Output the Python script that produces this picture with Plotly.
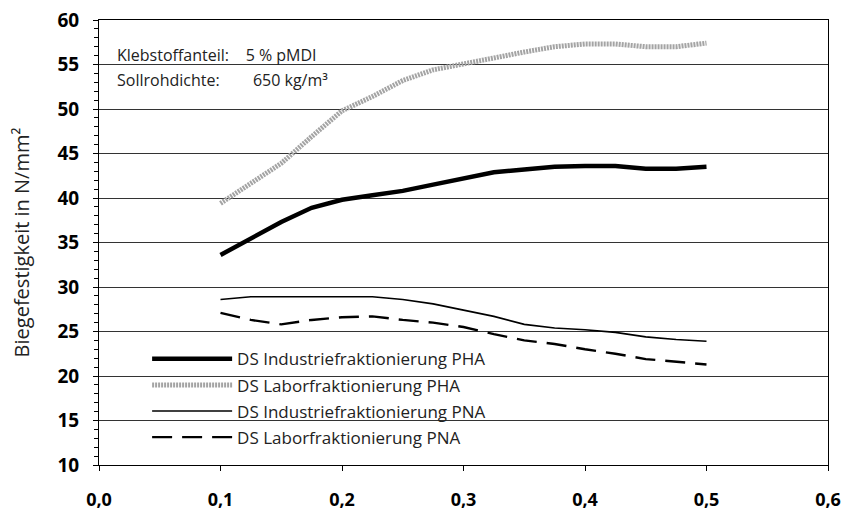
import plotly.graph_objects as go

x = [0.1, 0.125, 0.15, 0.175, 0.2, 0.225, 0.25, 0.275, 0.3, 0.325, 0.35, 0.375, 0.4, 0.425, 0.45, 0.475, 0.5]
pha_ind = [33.6, 35.5, 37.3, 38.9, 39.8, 40.3, 40.8, 41.5, 42.2, 42.9, 43.2, 43.5, 43.6, 43.6, 43.3, 43.3, 43.5]
pha_lab = [39.4, 41.6, 43.9, 46.9, 49.8, 51.4, 53.2, 54.4, 55.1, 55.8, 56.4, 57.0, 57.3, 57.3, 57.0, 57.0, 57.4]
pna_ind = [28.6, 28.9, 28.9, 28.9, 28.9, 28.9, 28.6, 28.1, 27.4, 26.7, 25.8, 25.4, 25.2, 24.9, 24.4, 24.1, 23.9]
pna_lab = [27.1, 26.3, 25.8, 26.3, 26.6, 26.7, 26.3, 26.0, 25.5, 24.7, 24.0, 23.6, 23.0, 22.5, 21.9, 21.6, 21.3]

names = ["DS Industriefraktionierung PHA", "DS Laborfraktionierung PHA",
         "DS Industriefraktionierung PNA", "DS Laborfraktionierung PNA"]
y_ticks = [10, 15, 20, 25, 30, 35, 40, 45, 50, 55, 60]
x_ticks = [0.0, 0.1, 0.2, 0.3, 0.4, 0.5, 0.6]
x_ticktext = ["0,0", "0,1", "0,2", "0,3", "0,4", "0,5", "0,6"]
box_lines = ["Klebstoffanteil:    5 % pMDI", "Sollrohdichte:        650 kg/m³"]

fig = go.Figure()
fig.add_trace(go.Scatter(x=x, y=pha_ind, mode="lines", name=names[0], legendgroup="a",
                         line=dict(color="black", width=4.5)))
fig.add_trace(go.Scatter(x=x, y=pha_lab, mode="lines", name=names[1], legendgroup="b",
                         line=dict(color="#a4a4a4", width=5, dash="2px,1px")))
fig.add_trace(go.Scatter(x=x, y=pna_ind, mode="lines", name=names[2], legendgroup="c",
                         line=dict(color="black", width=1.6)))
fig.add_trace(go.Scatter(x=x, y=pna_lab, mode="lines", name=names[3], legendgroup="d",
                         line=dict(color="black", width=2.4, dash="20px,10px")))

# white boxes behind legend and text block (covering gridlines)
fig.add_shape(type="rect", xref="paper", yref="paper", x0=0.0151, x1=0.605, y0=0.029, y1=0.281,
              fillcolor="white", line=dict(width=0), layer="between")
fig.add_shape(type="rect", xref="paper", yref="paper", x0=0.0151, x1=0.344, y0=0.838, y1=0.966,
              fillcolor="white", line=dict(width=0), layer="between")

fig.add_annotation(xref="paper", yref="paper", x=0.022, y=0.921, xanchor="left", yanchor="middle",
                   text=box_lines[0], showarrow=False,
                   font=dict(family="Open Sans", size=16, color="#222"))
fig.add_annotation(xref="paper", yref="paper", x=0.022, y=0.865, xanchor="left", yanchor="middle",
                   text=box_lines[1], showarrow=False,
                   font=dict(family="Open Sans", size=16, color="#222"))

fig.update_layout(
    width=847, height=510,
    margin=dict(l=99, r=19, t=20, b=45),
    plot_bgcolor="white", paper_bgcolor="white",
    separators=",.",
    showlegend=True,
    legend=dict(x=0.066, y=0.278, xanchor="left", yanchor="top", bgcolor="rgba(0,0,0,0)",
                font=dict(family="Open Sans", size=17, color="#222"),
                traceorder="grouped", tracegroupgap=1, itemwidth=80),
)
fig.update_xaxes(range=[0, 0.6], tickvals=x_ticks, ticktext=x_ticktext, automargin=False,
                 showgrid=False, showline=True, linecolor="black", linewidth=1, mirror=True,
                 ticks="outside", ticklen=5, tickcolor="black", ticklabelstandoff=13,
                 tickfont=dict(family="Open Sans", size=18, color="black", weight="bold"),
                 zeroline=False)
fig.update_yaxes(range=[10, 60], tickvals=y_ticks, automargin=False,
                 showgrid=True, gridcolor="#333", gridwidth=1,
                 showline=True, linecolor="black", linewidth=1, mirror=True,
                 ticks="outside", ticklen=5, tickcolor="black", ticklabelstandoff=10,
                 minor=dict(dtick=1, ticks="outside", ticklen=4, tickcolor="black", showgrid=False),
                 tickfont=dict(family="Open Sans", size=19, color="black", weight="bold"),
                 title=dict(text="Biegefestigkeit in N/mm²", standoff=22,
                            font=dict(family="Open Sans", size=20, color="#222")),
                 zeroline=False)

fig.write_html("out.html", config={"displayModeBar": False},
               post_script="document.body.style.margin='0px';")
